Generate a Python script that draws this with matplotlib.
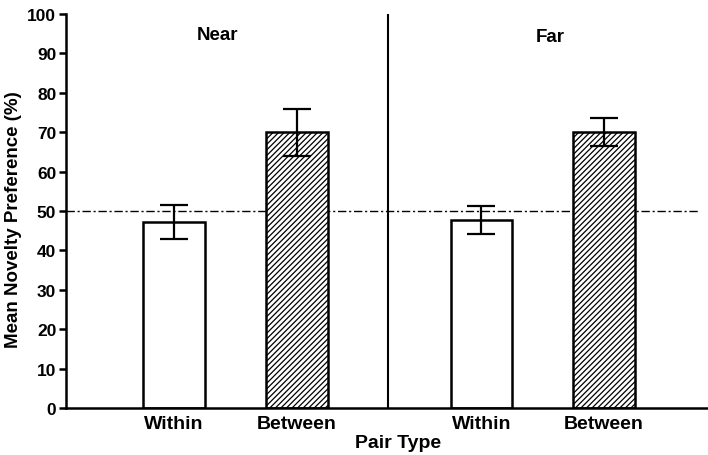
import matplotlib
matplotlib.use('Agg')
import matplotlib.pyplot as plt

plt.rcParams['font.family'] = ['Liberation Sans', 'DejaVu Sans']
plt.rcParams['font.weight'] = 'bold'
plt.rcParams['hatch.linewidth'] = 0.9
plt.rcParams['hatch.color'] = '#555555'

groups = ['Near', 'Far']
pair_types = ['Within', 'Between']
means = [47.3, 70.0, 47.8, 70.0]
errors = [4.3, 6.0, 3.6, 3.5]
chance = 50

# bar positions: two per group, groups separated by a wider gap
xpos = [0, 1, 2.5, 3.5]
hatches = ['', '//////', '', '//////']

fig = plt.figure(figsize=(7.08, 4.56), dpi=100)
ax = fig.add_axes([0.0932, 0.103, 0.9068, 0.864])

bars = ax.bar(xpos, means, width=0.5, color='white', edgecolor='black',
              linewidth=1.8, hatch=hatches, zorder=2)
ax.errorbar(xpos, means, yerr=errors, fmt='none', ecolor='black',
            elinewidth=1.6, capsize=10, capthick=1.6, zorder=3)

ax.axhline(chance, xmin=0, xmax=(4.26 + 0.88) / (4.345 + 0.88),
           color='black', linewidth=1.0, linestyle=(0, (6, 2, 1.5, 2)), zorder=1)
ax.axvline(1.74, ymin=0, ymax=1, color='black', linewidth=1.5)

ax.set_xlim(-0.88, 4.345)
ax.set_ylim(0, 100)
ax.set_yticks(range(0, 101, 10))
ax.tick_params(axis='y', labelsize=12.5, width=1.8, length=5, pad=2)
ax.set_xticks([])

for s in ['top', 'right']:
    ax.spines[s].set_visible(False)
for s in ['left', 'bottom']:
    ax.spines[s].set_linewidth(1.8)

ax.set_ylabel('Mean Novelty Preference (%)', fontsize=13.5, fontweight='bold')
ax.yaxis.set_label_coords(-0.0685, 0.48)

for x, lab in zip(xpos, pair_types * 2):
    ax.text(x, -1.8, lab, ha='center', va='top', fontsize=14, fontweight='bold')
ax.text(1.82, -6.6, 'Pair Type', ha='center', va='top', fontsize=14, fontweight='bold')

ax.text(0.35, 94.7, groups[0], ha='center', va='center', fontsize=13.5, fontweight='bold')
ax.text(3.06, 94.2, groups[1], ha='center', va='center', fontsize=13.5, fontweight='bold')

fig.savefig('out.png', dpi=100)
